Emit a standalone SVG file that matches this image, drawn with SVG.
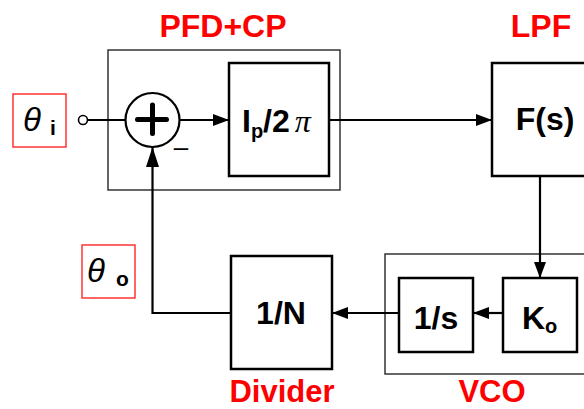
<svg xmlns="http://www.w3.org/2000/svg" width="584" height="409" viewBox="0 0 584 409">
<style>
.outer{fill:none;stroke:#333;stroke-width:1.5}
.blk{fill:#fff;stroke:#000;stroke-width:2.5}
.lbl{fill:#ff0000;font-family:"Liberation Sans",Arial,sans-serif;font-weight:bold;font-size:32px}
.lbl2{fill:#ff0000;font-family:"Liberation Sans",Arial,sans-serif;font-weight:bold;font-size:31px}
.bt{fill:#000;font-family:"Liberation Sans",Arial,sans-serif;font-weight:bold;font-size:32px}
.wire{fill:none;stroke:#000;stroke-width:2.2}
.sig{fill:none;stroke:#ff3333;stroke-width:1.5}
.th{fill:#000;font-family:"Liberation Sans",Arial,sans-serif;font-size:33px;font-style:italic}
.sub{fill:#000;font-family:"Liberation Sans",Arial,sans-serif;font-size:21px;font-weight:bold}
</style>
<defs>
<marker id="ah" viewBox="0 0 16 12" refX="16" refY="6" markerWidth="16" markerHeight="12" markerUnits="userSpaceOnUse" orient="auto">
<path d="M0,0 L16,6 L0,12 z" fill="#000"/>
</marker>
<marker id="ah2" viewBox="0 0 20 13" refX="20" refY="6.5" markerWidth="20" markerHeight="13" markerUnits="userSpaceOnUse" orient="auto">
<path d="M0,0 L20,6.5 L0,13 z" fill="#000"/>
</marker>
</defs>
<rect width="584" height="409" fill="#fff"/>
<g id="pfdcp">
<rect class="outer" x="108" y="50" width="232" height="140"/>
<text class="lbl" x="223" y="37" text-anchor="middle">PFD+CP</text>
</g>
<g id="vco">
<rect class="outer" x="385" y="254" width="210" height="120"/>
<text class="lbl2" x="492" y="402" text-anchor="middle">VCO</text>
</g>
<g id="theta-i">
<rect class="sig" x="13" y="94" width="53" height="53"/>
<text class="th" x="23" y="131">θ</text>
<text class="sub" x="50" y="135">i</text>
</g>
<g id="theta-o">
<rect class="sig" x="82" y="245" width="53" height="53"/>
<text class="th" x="87" y="282">θ</text>
<text class="sub" x="116" y="286">o</text>
</g>
<g id="input">
<circle cx="83" cy="120" r="4.5" fill="#fff" stroke="#000" stroke-width="1.6"/>
</g>
<g id="sum">
<circle cx="152.5" cy="120" r="27" fill="#fff" stroke="#000" stroke-width="2.2"/>
<path d="M137.5,119.5 H166.5 M152.5,105 V133.5" stroke="#000" stroke-width="5" stroke-linecap="round"/>
<text x="181" y="156" text-anchor="middle" font-family="Liberation Sans,Arial,sans-serif" font-size="26">–</text>
</g>
<g id="gain-ip">
<rect class="blk" x="229" y="63" width="100" height="113"/>
<text class="bt" x="242" y="132">I<tspan font-size="20" dy="6">p</tspan><tspan dy="-6">/2</tspan><tspan dx="5" font-family="Liberation Serif,serif" font-style="italic" font-weight="normal">π</tspan></text>
</g>
<g id="lpf">
<rect class="blk" x="492" y="63" width="110" height="113"/>
<text class="bt" x="545" y="130" text-anchor="middle">F(s)</text>
<text class="lbl" x="541" y="37" text-anchor="middle">LPF</text>
</g>
<g id="ko">
<rect class="blk" x="503" y="278" width="74" height="74"/>
<text class="bt" x="522" y="329">K<tspan font-size="20" dy="4">o</tspan></text>
</g>
<g id="integ">
<rect class="blk" x="399" y="278" width="74" height="74"/>
<text class="bt" x="436" y="329" text-anchor="middle">1/s</text>
</g>
<g id="divider">
<rect class="blk" x="231" y="256" width="101" height="113"/>
<text class="bt" x="281" y="324" text-anchor="middle">1/N</text>
<text class="lbl2" x="282" y="402" text-anchor="middle">Divider</text>
</g>
<g id="connectors">
<path class="wire" d="M87.5,120 H125.5"/>
<path class="wire" d="M179.5,120 H229" marker-end="url(#ah)"/>
<path class="wire" d="M329,120 H492" marker-end="url(#ah)"/>
<path class="wire" d="M540,176 V278" marker-end="url(#ah)"/>
<path class="wire" d="M503,313 H473" marker-end="url(#ah)"/>
<path class="wire" d="M399,313 H332" marker-end="url(#ah)"/>
<path class="wire" d="M231,313 H152.5 V147" marker-end="url(#ah2)"/>
</g>
</svg>
